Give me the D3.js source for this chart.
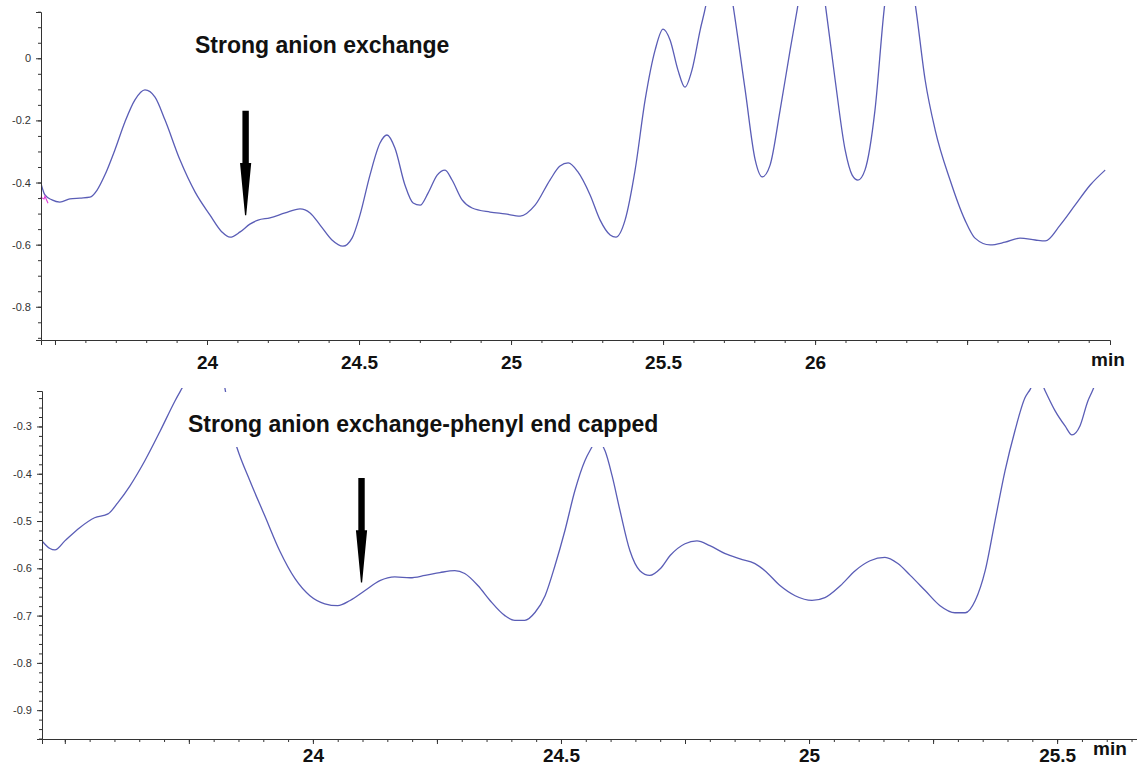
<!DOCTYPE html>
<html>
<head>
<meta charset="utf-8">
<script src="https://cdn.jsdelivr.net/npm/d3@7"></script>
<style>
  body { margin: 0; background: #fff; }
  svg { display: block; }
  text { font-family: Arial, "Liberation Sans", sans-serif; }
</style>
</head>
<body>
<svg id="chart" width="1137" height="771"></svg>
<script>
/* Chromatogram traces: [time (min), signal] */
var topSeries = [[23.451,-0.392],[23.467,-0.440],[23.490,-0.456],[23.516,-0.463],[23.549,-0.453],[23.582,-0.450],
  [23.615,-0.447],[23.638,-0.425],[23.664,-0.376],[23.697,-0.295],[23.730,-0.205],[23.763,-0.134],[23.796,-0.102],
  [23.829,-0.125],[23.862,-0.199],[23.911,-0.327],[23.961,-0.431],[24.010,-0.505],[24.049,-0.559],[24.076,-0.576],
  [24.109,-0.559],[24.141,-0.534],[24.168,-0.521],[24.207,-0.514],[24.257,-0.498],[24.306,-0.485],[24.339,-0.498],
  [24.372,-0.537],[24.411,-0.585],[24.447,-0.605],[24.477,-0.579],[24.503,-0.505],[24.536,-0.376],[24.569,-0.273],
  [24.592,-0.247],[24.618,-0.289],[24.651,-0.408],[24.678,-0.466],[24.701,-0.473],[24.727,-0.434],[24.757,-0.376],
  [24.783,-0.360],[24.806,-0.392],[24.839,-0.456],[24.872,-0.482],[24.931,-0.495],[24.980,-0.501],[25.030,-0.508],
  [25.079,-0.473],[25.128,-0.392],[25.161,-0.347],[25.188,-0.337],[25.220,-0.366],[25.260,-0.440],[25.293,-0.521],
  [25.326,-0.569],[25.345,-0.576],[25.375,-0.521],[25.408,-0.360],[25.441,-0.134],[25.474,0.027],[25.500,0.094],
  [25.523,0.059],[25.549,-0.038],[25.572,-0.093],[25.595,-0.038],[25.622,0.091],[25.641,0.172],[25.681,0.45],
  [25.730,0.172],[25.770,-0.102],[25.803,-0.327],[25.826,-0.382],[25.852,-0.344],[25.885,-0.167],[25.918,0.027],
  [25.941,0.156],[25.990,0.45],[26.036,0.156],[26.066,-0.070],[26.099,-0.296],[26.122,-0.376],[26.141,-0.392],
  [26.164,-0.360],[26.197,-0.167],[26.227,0.156],[26.280,0.45],[26.332,0.156],[26.362,-0.070],[26.395,-0.231],
  [26.444,-0.392],[26.493,-0.521],[26.526,-0.579],[26.576,-0.601],[26.625,-0.592],[26.674,-0.579],[26.724,-0.585],
  [26.757,-0.588],[26.806,-0.537],[26.855,-0.473],[26.905,-0.408],[26.954,-0.360]];

var topMarker = [[23.452,-0.447],[23.464,-0.453],[23.467,-0.444],[23.477,-0.467]];

var bottomSeries = [[23.454,-0.542],[23.470,-0.558],[23.480,-0.561],[23.500,-0.542],[23.530,-0.514],[23.560,-0.493],
  [23.587,-0.485],[23.607,-0.461],[23.631,-0.426],[23.661,-0.373],[23.692,-0.310],[23.722,-0.246],[23.742,-0.208],
  [23.792,-0.10],[23.847,-0.345],[23.873,-0.415],[23.903,-0.489],[23.933,-0.563],[23.964,-0.622],[23.994,-0.658],
  [24.024,-0.675],[24.050,-0.679],[24.075,-0.668],[24.105,-0.647],[24.135,-0.626],[24.165,-0.618],[24.196,-0.620],
  [24.226,-0.615],[24.256,-0.609],[24.286,-0.605],[24.306,-0.611],[24.333,-0.637],[24.357,-0.668],[24.387,-0.700],
  [24.407,-0.710],[24.427,-0.710],[24.448,-0.693],[24.468,-0.658],[24.488,-0.594],[24.508,-0.520],[24.528,-0.436],
  [24.548,-0.373],[24.558,-0.352],[24.573,-0.33],[24.589,-0.352],[24.603,-0.404],[24.619,-0.478],[24.639,-0.563],
  [24.659,-0.605],[24.679,-0.615],[24.700,-0.601],[24.720,-0.573],[24.750,-0.548],[24.774,-0.542],[24.800,-0.552],
  [24.831,-0.569],[24.861,-0.580],[24.891,-0.590],[24.911,-0.605],[24.942,-0.637],[24.972,-0.658],[25.006,-0.668],
  [25.032,-0.662],[25.063,-0.637],[25.093,-0.605],[25.123,-0.584],[25.153,-0.577],[25.179,-0.590],[25.204,-0.615],
  [25.234,-0.647],[25.264,-0.679],[25.294,-0.694],[25.315,-0.694],[25.335,-0.668],[25.355,-0.605],[25.375,-0.499],
  [25.395,-0.394],[25.415,-0.309],[25.435,-0.240],[25.446,-0.221],[25.460,-0.19],[25.476,-0.225],[25.496,-0.267],
  [25.516,-0.299],[25.530,-0.318],[25.546,-0.299],[25.562,-0.246],[25.571,-0.225],[25.587,-0.183]];

/* Tick values and labels */
var topXMajor = [23.5, 24, 24.5, 25, 25.5, 26, 26.5];
var topXLabels = [24, 24.5, 25, 25.5, 26];
var topYLabels = [0, -0.2, -0.4, -0.6, -0.8];
var bottomXMajor = [23.5, 23.75, 24, 24.25, 24.5, 24.75, 25, 25.25, 25.5];
var bottomXLabels = [24, 24.5, 25, 25.5];
var bottomYLabels = [-0.3, -0.4, -0.5, -0.6, -0.7, -0.8, -0.9];

/* Arrows: [time, tail value, tip value] */
var topArrow = [24.127, -0.169, -0.505];
var bottomArrow = [24.098, -0.409, -0.630];

var titles = ["Strong anion exchange", "Strong anion exchange-phenyl end capped"];

var lineColor = "#5a5db6";
var axisColor = "#333";

var svg = d3.select("#chart");
svg.append("rect").attr("width", 1137).attr("height", 771).attr("fill", "#fff");

function drawPanel(p) {
    var x = d3.scaleLinear().domain(p.xDomain).range([p.left, p.right]);
    var y = d3.scaleLinear().domain(p.yDomain).range([p.bottom, p.top]);
    var g = svg.append("g");

    var line = d3.line()
        .x(d => x(d[0]))
        .y(d => y(d[1]))
        .curve(d3.curveMonotoneX);

    g.append("clipPath").attr("id", p.id + "-clip")
      .append("rect")
        .attr("x", p.left).attr("y", p.clipTop)
        .attr("width", p.right - p.left).attr("height", p.bottom - p.clipTop);

    g.append("path")
        .datum(p.series)
        .attr("clip-path", "url(#" + p.id + "-clip)")
        .attr("d", line)
        .attr("fill", "none")
        .attr("stroke", lineColor)
        .attr("stroke-width", 1.3);

    if (p.marker) {
        g.append("path")
            .datum(p.marker)
            .attr("d", d3.line().x(d => x(d[0])).y(d => y(d[1])))
            .attr("fill", "none")
            .attr("stroke", "#e040d8")
            .attr("stroke-width", 1.1);
    }

    /* white patch behind the title, as pasted on the picture */
    if (p.titleBox) {
        g.append("rect")
            .attr("x", p.titleBox[0]).attr("y", p.titleBox[1])
            .attr("width", p.titleBox[2]).attr("height", p.titleBox[3])
            .attr("fill", "#fff");
    }

    /* y axis: minor then major */
    g.append("g")
        .attr("transform", "translate(" + p.left + ",0)")
        .call(d3.axisLeft(y).tickValues(p.yMinor).tickSize(3).tickFormat(""))
        .call(a => a.select(".domain").remove());
    var ya = g.append("g")
        .attr("transform", "translate(" + p.left + ",0)")
        .call(d3.axisLeft(y).tickValues(p.yLabels).tickSize(5).tickPadding(5)
            .tickFormat(d => String(d)));
    ya.selectAll("text").attr("font-size", 11).attr("fill", "#333").style("font-family", "Arial, 'Liberation Sans', sans-serif");

    /* x axis */
    g.append("g")
        .attr("transform", "translate(0," + p.bottom + ")")
        .call(d3.axisBottom(x).tickValues(p.xMinor).tickSize(3).tickFormat(""))
        .call(a => a.select(".domain").remove());
    var xa = g.append("g")
        .attr("transform", "translate(0," + p.bottom + ")")
        .call(d3.axisBottom(x).tickValues(p.xMajor).tickSize(5).tickPadding(p.xPad)
            .tickFormat(d => p.xLabels.indexOf(d) >= 0 ? String(d) : ""));
    xa.selectAll("text").attr("font-size", 19).attr("font-weight", "bold").attr("fill", "#111")
        .style("font-family", "Arial, 'Liberation Sans', sans-serif");

    g.selectAll(".domain, .tick line").attr("stroke", axisColor);

    g.append("text")
        .attr("x", p.minX).attr("y", p.minY)
        .attr("text-anchor", "middle")
        .attr("font-size", 19).attr("font-weight", "bold").attr("fill", "#111")
        .text("min");

    g.append("text")
        .attr("x", p.titleX).attr("y", p.titleY)
        .attr("font-size", p.titleSize).attr("font-weight", "bold").attr("fill", "#111")
        .text(p.title);

    /* arrow */
    var ax = x(p.arrow[0]), yT = y(p.arrow[1]), yP = y(p.arrow[2]);
    var yM = (yT + yP) / 2;
    var pts = [[ax - 3.2, yT], [ax + 3.2, yT], [ax + 3.2, yM], [ax + 5.6, yM], [ax + 0.6, yP],
               [ax - 0.6, yP], [ax - 5.6, yM], [ax - 3.2, yM]];
    g.append("path")
        .attr("d", "M" + pts.map(q => q.join(",")).join("L") + "Z")
        .attr("fill", "#000");
}

drawPanel({
    id: "top", series: topSeries, marker: topMarker,
    xDomain: [23.454, 26.97], yDomain: [-0.907, 0.149],
    left: 41, right: 1110, top: 12, bottom: 340, clipTop: 6,
    xMajor: topXMajor, xLabels: topXLabels, xPad: 11,
    xMinor: d3.range(23.5, 26.95, 0.1),
    yLabels: topYLabels, yMinor: d3.range(0.15, -0.91, -0.05),
    minX: 1108, minY: 366,
    title: titles[0], titleX: 195, titleY: 53, titleSize: 23,
    arrow: topArrow
});

drawPanel({
    id: "bottom", series: bottomSeries,
    xDomain: [23.454, 25.661], yDomain: [-0.961, -0.225],
    left: 42, right: 1137, top: 391, bottom: 739, clipTop: 388,
    xMajor: bottomXMajor, xLabels: bottomXLabels, xPad: 5,
    xMinor: d3.range(23.5, 25.66, 0.05),
    yLabels: bottomYLabels, yMinor: d3.range(-0.24, -0.961, -0.02),
    minX: 1110, minY: 755,
    title: titles[1], titleX: 188, titleY: 432, titleSize: 23,
    titleBox: [186, 392, 484, 55],
    arrow: bottomArrow
});
</script>
</body>
</html>
